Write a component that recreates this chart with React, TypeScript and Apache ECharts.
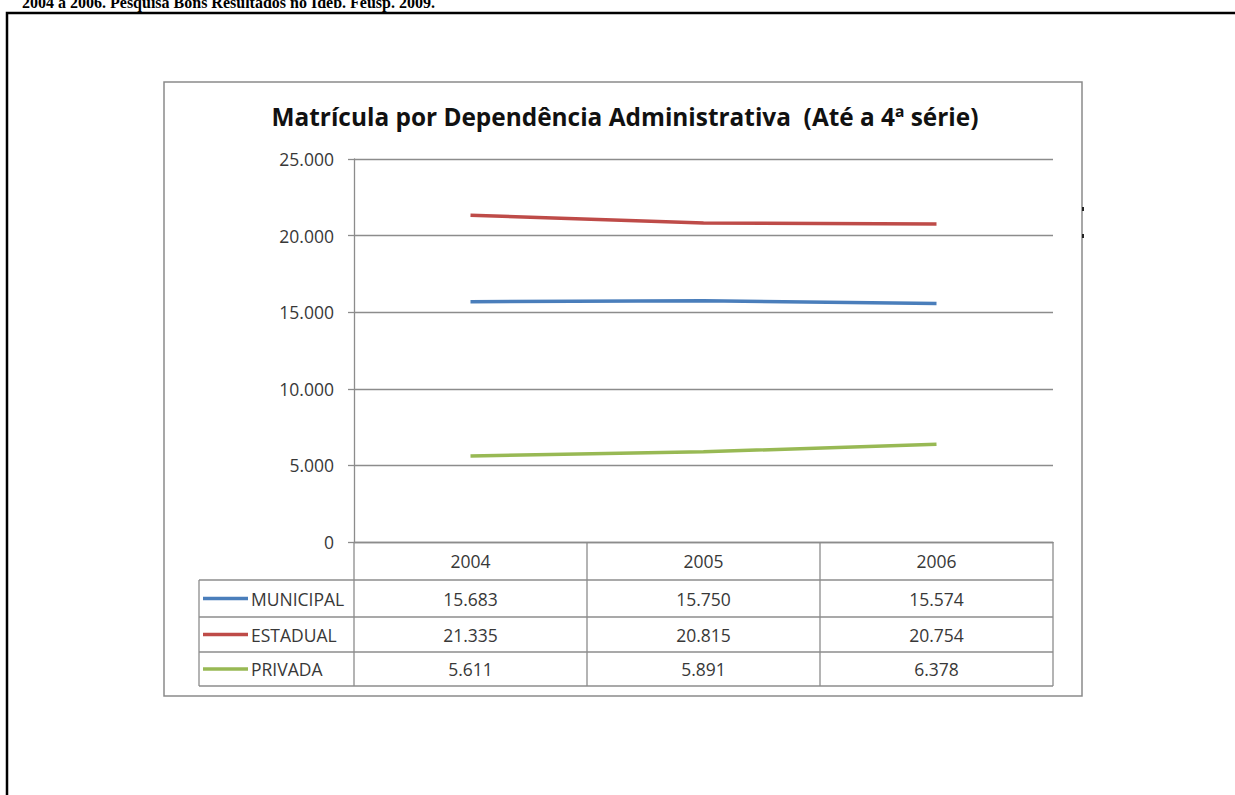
import React, { useEffect, useRef } from "react";
import * as echarts from "echarts";

const years = ["2004", "2005", "2006"];
const seriesNames = ["MUNICIPAL", "ESTADUAL", "PRIVADA"];
const municipal = [15683, 15750, 15574];
const estadual = [21335, 20815, 20754];
const privada = [5611, 5891, 6378];
const seriesColors = ["#4a7ebb", "#be4b48", "#98b954"];
const yMax = 25000;
const yStep = 5000;

const titleText = "Matrícula por Dependência Administrativa  (Até a 4ª série)";
const captionText = "2004 a 2006. Pesquisa Bons Resultados no Ideb. Feusp. 2009.";

const fmt = (v: number) => String(v).replace(/\B(?=(\d{3})+(?!\d))/g, ".");

export default function App() {
  const ref = useRef<HTMLDivElement>(null);
  useEffect(() => {
    if (!ref.current) return;
    const chart = echarts.init(ref.current, null, { renderer: "svg" });
    const W = 1235;
    const H = 795;
    const gridLeft = 354;
    const gridRight = 1053;
    const gridTop = 159;
    const gridBottom = 542;
    const colW = (gridRight - gridLeft) / years.length;
    const legendLeft = 199;
    const rowEdges = [gridBottom, 580, 617, 652, 686];
    const lineColor = "#8c8c8c";
    const font = "'Open Sans', 'Noto Sans', sans-serif";
    const textColor = "#383838";
    const fs = 17.5;
    const allData = [municipal, estadual, privada];

    const graphics: any[] = [];
    graphics.push({
      type: "rect",
      shape: { x: 7, y: 13, width: 1300, height: 900 },
      style: { fill: "none", stroke: "#000", lineWidth: 2.5 },
      silent: true,
    });
    graphics.push({
      type: "text",
      x: 22,
      y: 2,
      style: {
        text: captionText,
        font: "bold 16px 'Liberation Serif', 'Times New Roman', serif",
        fill: "#000",
        verticalAlign: "middle",
        align: "left",
      },
    });
    graphics.push({
      type: "rect",
      shape: { x: 164, y: 82, width: 918, height: 614 },
      style: { fill: "none", stroke: "#8a8a8a", lineWidth: 1.5 },
      silent: true,
    });
    // small dark marks on the frame's right edge
    [207, 234].forEach((y) => {
      graphics.push({
        type: "rect",
        shape: { x: 1082, y, width: 2, height: 4 },
        style: { fill: "#222" },
        silent: true,
      });
    });
    graphics.push({
      type: "text",
      x: 625,
      y: 116,
      style: {
        text: titleText,
        font: "bold 24.4px " + font,
        fill: "#111",
        align: "center",
        verticalAlign: "middle",
      },
    });
    for (let r = 1; r < rowEdges.length; r++) {
      graphics.push({
        type: "line",
        shape: { x1: legendLeft, y1: rowEdges[r], x2: gridRight, y2: rowEdges[r] },
        style: { stroke: lineColor, lineWidth: 1.3 },
      });
    }
    graphics.push({
      type: "line",
      shape: { x1: legendLeft, y1: rowEdges[1], x2: legendLeft, y2: rowEdges[4] },
      style: { stroke: lineColor, lineWidth: 1.3 },
    });
    for (let c = 0; c <= years.length; c++) {
      const x = gridLeft + c * colW;
      graphics.push({
        type: "line",
        shape: { x1: x, y1: gridBottom, x2: x, y2: rowEdges[4] },
        style: { stroke: lineColor, lineWidth: 1.3 },
      });
    }
    years.forEach((y, i) => {
      graphics.push({
        type: "text",
        x: gridLeft + (i + 0.5) * colW,
        y: (rowEdges[0] + rowEdges[1]) / 2,
        style: { text: y, font: fs + "px " + font, fill: textColor, align: "center", verticalAlign: "middle" },
      });
    });
    seriesNames.forEach((name, r) => {
      const cy = (rowEdges[r + 1] + rowEdges[r + 2]) / 2;
      graphics.push({
        type: "line",
        shape: { x1: 203, y1: cy, x2: 248, y2: cy },
        style: { stroke: seriesColors[r], lineWidth: 3.5 },
      });
      graphics.push({
        type: "text",
        x: 251,
        y: cy,
        style: { text: name, font: fs + "px " + font, fill: textColor, align: "left", verticalAlign: "middle" },
      });
      allData[r].forEach((v, i) => {
        graphics.push({
          type: "text",
          x: gridLeft + (i + 0.5) * colW,
          y: cy,
          style: { text: fmt(v), font: fs + "px " + font, fill: textColor, align: "center", verticalAlign: "middle" },
        });
      });
    });

    chart.setOption({
      animation: false,
      backgroundColor: "#fff",
      grid: {
        left: gridLeft,
        right: W - gridRight,
        top: gridTop,
        bottom: H - gridBottom,
        containLabel: false,
      },
      xAxis: {
        type: "category",
        data: years,
        boundaryGap: true,
        axisLine: { show: true, lineStyle: { color: lineColor, width: 1.3 } },
        axisTick: { show: false },
        axisLabel: { show: false },
        splitLine: { show: false },
      },
      yAxis: {
        type: "value",
        min: 0,
        max: yMax,
        interval: yStep,
        axisLine: { show: true, lineStyle: { color: lineColor, width: 1.3 } },
        axisTick: { show: true, length: 6, lineStyle: { color: lineColor, width: 1.3 } },
        axisLabel: {
          formatter: (v: number) => fmt(v),
          color: textColor,
          fontFamily: font,
          fontSize: fs,
          margin: 20,
        },
        splitLine: { show: true, lineStyle: { color: lineColor, width: 1.3 } },
      },
      series: allData.map((d, i) => ({
        name: seriesNames[i],
        type: "line",
        data: d,
        symbol: "none",
        lineStyle: { color: seriesColors[i], width: 3.5 },
        itemStyle: { color: seriesColors[i] },
      })),
      graphic: graphics,
    });
    return () => chart.dispose();
  }, []);
  return (
    <div
      ref={ref}
      style={{ position: "absolute", left: 0, top: 0, width: 1235, height: 795 }}
    />
  );
}
